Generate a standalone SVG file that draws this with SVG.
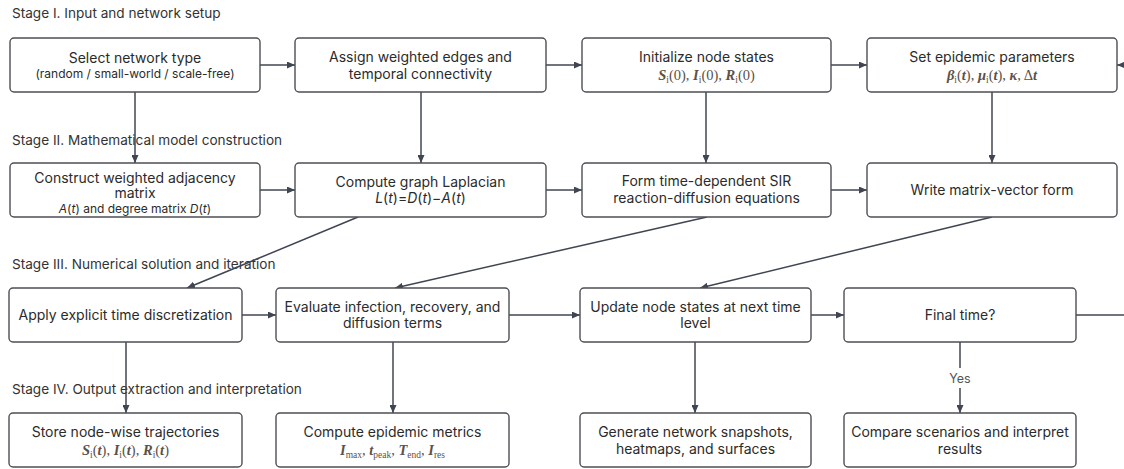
<svg xmlns="http://www.w3.org/2000/svg" width="1124" height="469" viewBox="0 0 1124 469">
<style>
.node rect{fill:#fff;stroke:#4d4f54;stroke-width:1.4}
.t{font-family:Inter,"Liberation Sans",sans-serif;font-size:14px;fill:#2b2b2b;text-anchor:middle}
.s{font-size:12px}
.sm{font-size:12px}
.i{font-style:italic}
.m{font-family:"Liberation Serif",serif;font-size:14.5px;fill:#5b5148;text-anchor:middle}
.mi{font-style:italic;font-weight:bold}
.sub{font-size:9.5px}
.stage{font-family:Inter,"Liberation Sans",sans-serif;font-size:13.6px;fill:#333}
.c{stroke:#3f4652;stroke-width:1.5;fill:none}
.lbl{font-family:Inter,"Liberation Sans",sans-serif;font-size:12.5px;fill:#555;text-anchor:middle}
</style>
<defs>
<marker id="ah" markerUnits="userSpaceOnUse" markerWidth="9" markerHeight="7" refX="8" refY="3.5" orient="auto">
<path d="M0,0 L8,3.5 L0,7 z" fill="#3f4652"/>
</marker>
</defs>

<g id="stages">
<text class="stage" x="12" y="18">Stage I. Input and network setup</text>
<text class="stage" x="12" y="145">Stage II. Mathematical model construction</text>
<text class="stage" x="12" y="269">Stage III. Numerical solution and iteration</text>
<text class="stage" x="12" y="394">Stage IV. Output extraction and interpretation</text>
</g>

<g id="connectors">
<line class="c" x1="260" y1="65" x2="295" y2="65" marker-end="url(#ah)"/>
<line class="c" x1="546" y1="65" x2="582" y2="65" marker-end="url(#ah)"/>
<line class="c" x1="831" y1="65" x2="867" y2="65" marker-end="url(#ah)"/>
<line class="c" x1="1124" y1="65" x2="1117" y2="65" marker-end="url(#ah)"/>
<line class="c" x1="135" y1="92" x2="135" y2="163" marker-end="url(#ah)"/>
<line class="c" x1="421" y1="92" x2="421" y2="163" marker-end="url(#ah)"/>
<line class="c" x1="706" y1="92" x2="706" y2="163" marker-end="url(#ah)"/>
<line class="c" x1="992" y1="92" x2="992" y2="163" marker-end="url(#ah)"/>
<line class="c" x1="260" y1="190" x2="295" y2="190" marker-end="url(#ah)"/>
<line class="c" x1="546" y1="190" x2="582" y2="190" marker-end="url(#ah)"/>
<line class="c" x1="831" y1="190" x2="867" y2="190" marker-end="url(#ah)"/>
<line class="c" x1="358" y1="217" x2="187" y2="288" marker-end="url(#ah)"/>
<line class="c" x1="707" y1="217" x2="395" y2="288" marker-end="url(#ah)"/>
<line class="c" x1="992" y1="217" x2="700" y2="288" marker-end="url(#ah)"/>
<line class="c" x1="242" y1="315" x2="276" y2="315" marker-end="url(#ah)"/>
<line class="c" x1="509" y1="315" x2="580" y2="315" marker-end="url(#ah)"/>
<line class="c" x1="811" y1="315" x2="844" y2="315" marker-end="url(#ah)"/>
<line class="c" x1="1076" y1="315" x2="1124" y2="315"/>
<line class="c" x1="126" y1="342" x2="126" y2="413" marker-end="url(#ah)"/>
<line class="c" x1="393" y1="342" x2="393" y2="413" marker-end="url(#ah)"/>
<line class="c" x1="695" y1="342" x2="695" y2="413" marker-end="url(#ah)"/>
<line class="c" x1="960" y1="342" x2="960" y2="368"/>
<line class="c" x1="960" y1="388" x2="960" y2="413" marker-end="url(#ah)"/>
<text class="lbl" x="960" y="383">Yes</text>
</g>

<g id="n1" class="node">
<rect x="10" y="38" width="250" height="54" rx="4"/>
<text class="t" x="135" y="63">Select network type</text>
<text class="t s" x="135" y="78">(random / small-world / scale-free)</text>
</g>
<g id="n2" class="node">
<rect x="295" y="38" width="251" height="54" rx="4"/>
<text class="t" x="420.5" y="62">Assign weighted edges and</text>
<text class="t" x="420.5" y="79">temporal connectivity</text>
</g>
<g id="n3" class="node">
<rect x="582" y="38" width="249" height="54" rx="4"/>
<text class="t" x="706.5" y="62">Initialize node states</text>
<text class="m" x="706.5" y="80"><tspan class="mi">S</tspan><tspan class="sub" dy="3">i</tspan><tspan dy="-3">(0), </tspan><tspan class="mi">I</tspan><tspan class="sub" dy="3">i</tspan><tspan dy="-3">(0), </tspan><tspan class="mi">R</tspan><tspan class="sub" dy="3">i</tspan><tspan dy="-3">(0)</tspan></text>
</g>
<g id="n4" class="node">
<rect x="867" y="38" width="250" height="54" rx="4"/>
<text class="t" x="992" y="62">Set epidemic parameters</text>
<text class="m" x="992" y="80"><tspan class="mi">β</tspan><tspan class="sub" dy="3">i</tspan><tspan dy="-3">(</tspan><tspan class="mi">t</tspan><tspan>), </tspan><tspan class="mi">μ</tspan><tspan class="sub" dy="3">i</tspan><tspan dy="-3">(</tspan><tspan class="mi">t</tspan><tspan>), </tspan><tspan class="mi">κ</tspan><tspan>, Δ</tspan><tspan class="mi">t</tspan></text>
</g>

<g id="n5" class="node">
<rect x="10" y="163" width="250" height="54" rx="4"/>
<text class="t" x="135" y="183">Construct weighted adjacency</text>
<text class="t" x="135" y="198">matrix</text>
<text class="t sm" x="135" y="213"><tspan class="i">A</tspan>(<tspan class="i">t</tspan>) and degree matrix <tspan class="i">D</tspan>(<tspan class="i">t</tspan>)</text>
</g>
<g id="n6" class="node">
<rect x="295" y="163" width="251" height="54" rx="4"/>
<text class="t" x="420.5" y="187">Compute graph Laplacian</text>
<text class="t" x="420.5" y="203"><tspan class="i">L</tspan>(<tspan class="i">t</tspan>)=<tspan class="i">D</tspan>(<tspan class="i">t</tspan>)−<tspan class="i">A</tspan>(<tspan class="i">t</tspan>)</text>
</g>
<g id="n7" class="node">
<rect x="582" y="163" width="249" height="54" rx="4"/>
<text class="t" x="706.5" y="186">Form time-dependent SIR</text>
<text class="t" x="706.5" y="203">reaction-diffusion equations</text>
</g>
<g id="n8" class="node">
<rect x="867" y="163" width="250" height="54" rx="4"/>
<text class="t" x="992" y="195">Write matrix-vector form</text>
</g>

<g id="n9" class="node">
<rect x="9" y="288" width="233" height="54" rx="4"/>
<text class="t" x="125.5" y="320">Apply explicit time discretization</text>
</g>
<g id="n10" class="node">
<rect x="276" y="288" width="233" height="54" rx="4"/>
<text class="t" x="392.5" y="312">Evaluate infection, recovery, and</text>
<text class="t" x="392.5" y="328">diffusion terms</text>
</g>
<g id="n11" class="node">
<rect x="580" y="288" width="231" height="54" rx="4"/>
<text class="t" x="695.5" y="312">Update node states at next time</text>
<text class="t" x="695.5" y="328">level</text>
</g>
<g id="n12" class="node">
<rect x="844" y="288" width="232" height="54" rx="4"/>
<text class="t" x="960" y="320">Final time?</text>
</g>

<g id="n13" class="node">
<rect x="9" y="413" width="233" height="54" rx="4"/>
<text class="t" x="125.5" y="437">Store node-wise trajectories</text>
<text class="m" x="125.5" y="455"><tspan class="mi">S</tspan><tspan class="sub" dy="3">i</tspan><tspan dy="-3">(</tspan><tspan class="mi">t</tspan><tspan>), </tspan><tspan class="mi">I</tspan><tspan class="sub" dy="3">i</tspan><tspan dy="-3">(</tspan><tspan class="mi">t</tspan><tspan>), </tspan><tspan class="mi">R</tspan><tspan class="sub" dy="3">i</tspan><tspan dy="-3">(</tspan><tspan class="mi">t</tspan><tspan>)</tspan></text>
</g>
<g id="n14" class="node">
<rect x="276" y="413" width="233" height="54" rx="4"/>
<text class="t" x="392.5" y="437">Compute epidemic metrics</text>
<text class="m" x="392.5" y="455"><tspan class="mi">I</tspan><tspan class="sub" dy="3">max</tspan><tspan dy="-3">, </tspan><tspan class="mi">t</tspan><tspan class="sub" dy="3">peak</tspan><tspan dy="-3">, </tspan><tspan class="mi">T</tspan><tspan class="sub" dy="3">end</tspan><tspan dy="-3">, </tspan><tspan class="mi">I</tspan><tspan class="sub" dy="3">res</tspan></text>
</g>
<g id="n15" class="node">
<rect x="580" y="413" width="231" height="54" rx="4"/>
<text class="t" x="695.5" y="437">Generate network snapshots,</text>
<text class="t" x="695.5" y="454">heatmaps, and surfaces</text>
</g>
<g id="n16" class="node">
<rect x="844" y="413" width="232" height="54" rx="4"/>
<text class="t" x="960" y="437">Compare scenarios and interpret</text>
<text class="t" x="960" y="454">results</text>
</g>
</svg>
